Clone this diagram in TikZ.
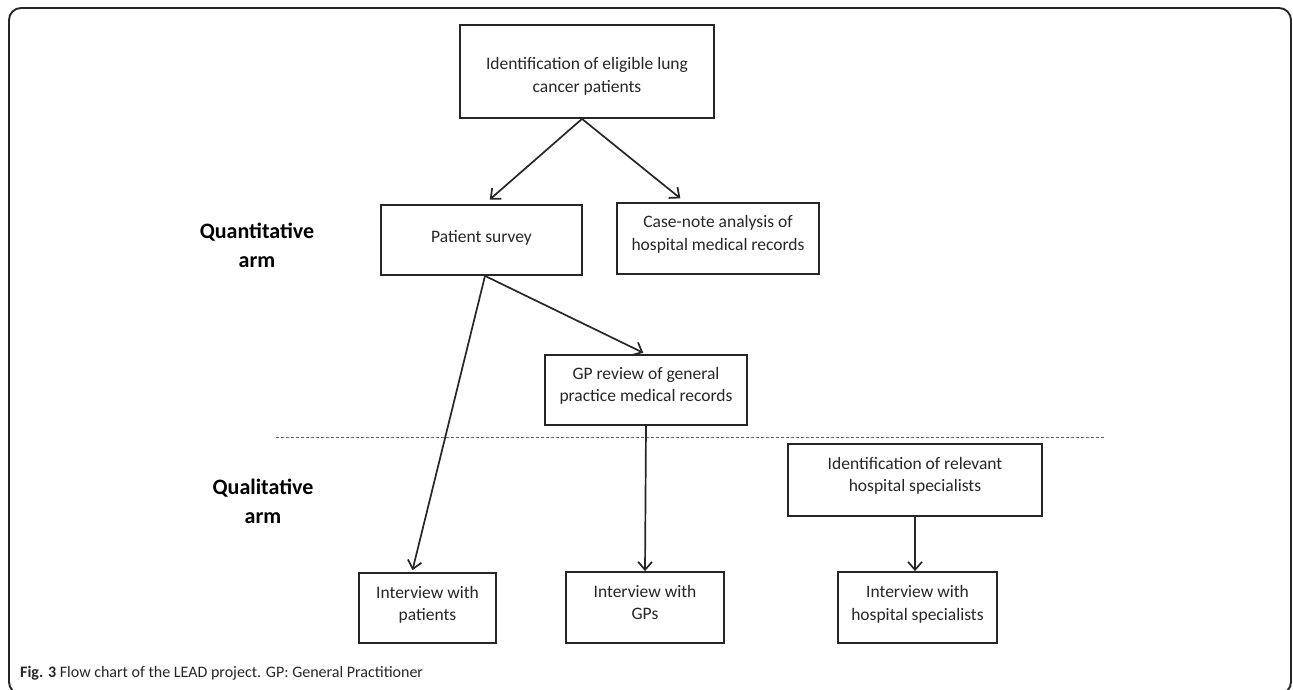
\documentclass[tikz,border=0pt]{standalone}
\usepackage{fontspec}
\setmainfont{Carlito}
\usetikzlibrary{arrows.meta,calc}
\newcommand{\bt}[2][4pt]{\raisebox{#1}[\height][\depth]{\begin{tabular}{@{}c@{}}#2\end{tabular}}}
\begin{document}
\begin{tikzpicture}[x=1pt,y=-1pt,
  box/.style={draw=black!85, line width=1.8pt, rectangle, inner sep=0pt,
    font=\fontsize{17.5}{22.5}\selectfont, text=black!85},
  arr/.style={draw=black!85, line width=1.7pt, -{Straight Barb[length=8pt,width=14pt,line width=1.7pt]}},
  armlabel/.style={align=center, font=\bfseries\fontsize{22}{29}\selectfont, inner sep=0pt}]
\useasboundingbox (0,0) rectangle (1293,689);
\clip (0,0) rectangle (1293,689);
\draw[black!85, line width=1.9pt, rounded corners=12pt] (9,8) rectangle (1291,694);

\node[box, minimum width=254pt, minimum height=93pt] (top) at (587,71.5) {\bt[-5pt]{Identification of eligible lung\\cancer patients}};
\node[box, minimum width=201pt, minimum height=70pt] (survey) at (481.5,240) {\bt[2pt]{Patient survey}};
\node[box, minimum width=202pt, minimum height=71pt] (casenote) at (718,238.5) {\bt{Case-note analysis of\\hospital medical records}};
\node[box, minimum width=202pt, minimum height=70pt] (gprev) at (646,390) {\bt{GP review of general\\practice medical records}};
\node[box, minimum width=254pt, minimum height=72pt] (hident) at (915,480) {\bt{Identification of relevant\\hospital specialists}};
\node[box, minimum width=137pt, minimum height=70pt] (ipat) at (427.5,608) {\bt[3pt]{Interview with\\patients}};
\node[box, minimum width=158pt, minimum height=71pt] (igp) at (645,607.5) {\bt[3.5pt]{Interview with\\GPs}};
\node[box, minimum width=159pt, minimum height=71pt] (ihosp) at (917.5,607.5) {\bt[3pt]{Interview with\\hospital specialists}};

\node[armlabel] (quant) at (257,245) {Quantitative\\arm};
\node[armlabel] (qual) at (263,501) {Qualitative\\arm};

\coordinate (dashL) at (276,437);
\coordinate (dashR) at (1105,437);
\draw[black!60, line width=0.9pt, dash pattern=on 3pt off 2pt] (dashL) -- (dashR);

\draw[arr, shorten >=7pt] ([xshift=-5pt]top.south) -- ([xshift=3pt]survey.north);
\draw[arr, shorten >=6pt] ([xshift=-5pt]top.south) -- ([xshift=-33pt]casenote.north);
\draw[arr, shorten >=3pt] ([xshift=3.5pt]survey.south) -- (gprev.north);
\draw[arr, shorten >=2pt] ([xshift=3.5pt]survey.south) -- ([xshift=-15.5pt]ipat.north);
\draw[arr] (gprev.south) -- (igp.north);
\draw[arr] (hident.south) -- (hident.south |- ihosp.north);

\node[anchor=west, inner sep=0pt, font=\fontsize{16}{20}\selectfont, text=black!85] (cap) at (20,673) {\textbf{Fig. 3} Flow chart of the LEAD project. GP: General Practitioner};
\end{tikzpicture}
\end{document}
